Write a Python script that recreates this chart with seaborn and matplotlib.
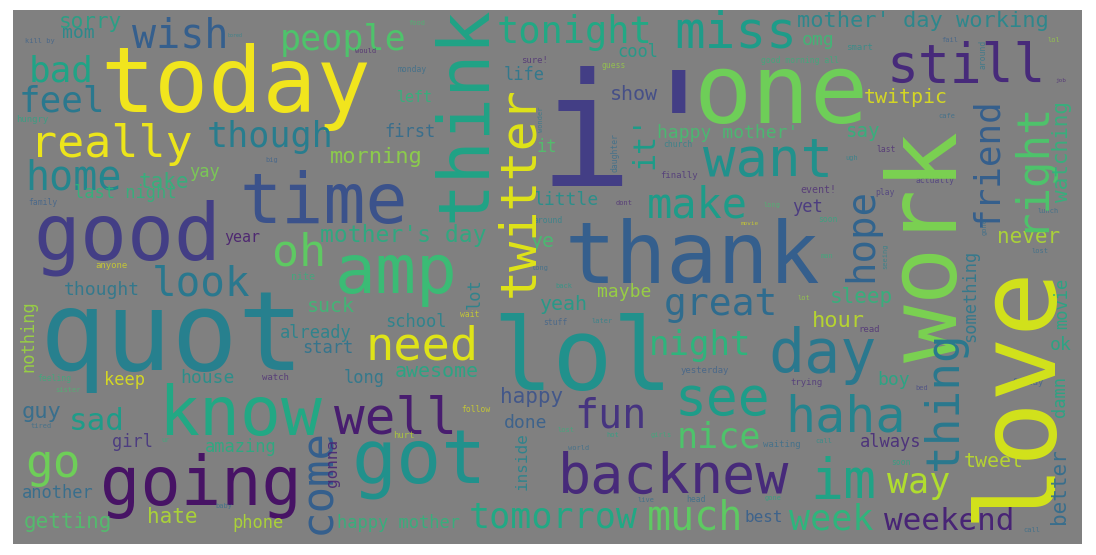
import matplotlib
matplotlib.use("Agg")
import matplotlib.pyplot as plt
import seaborn as sns

# Word cloud.
# x, y in image pixels (x = left edge / baseline for rotated words, y = baseline / start for rotated)
# size = em height in pixels, tone = position on the viridis scale

h_words = [
    "today", "i'", "one", "quot", "good", "time", "thank", "lol", "got", "know",
    "going", "amp", "want", "miss", "still", "day", "back", "new", "see", "im",
    "well", "haha", "need", "really", "make", "go", "oh", "look", "wish", "home",
    "fun", "much", "great", "tonight", "though", "people", "night", "nice", "way", "week",
    "tomorrow", "bad", "feel", "weekend", "sad", "mother' day working", "twitpic", "morning", "hour", "guy",
    "getting", "hate", "happy", "take", "sleep", "never", "sorry", "mom", "show", "awesome",
    "yeah", "ye", "suck", "tweet", "say", "omg", "happy mother'", "done", "maybe", "little",
    "ok", "boy", "thought", "house", "mother's day", "keep", "last night", "life", "cool", "first",
    "yay", "it", "school", "already", "start", "girl", "amazing", "another", "phone", "happy mother",
    "long", "yet", "always", "best", "left", "year",
    "kill by", "food", "would", "sure!", "guess", "monday", "hungry", "big", "family", "anyone",
    "nite", "feeling", "sister", "watch", "tired", "ur", "baby", "follow", "hurt", "lost",
    "world", "girls", "hot", "yesterday", "live", "head", "trying", "bed", "friday", "waiting",
    "call", "soon", "gone", "call", "smart", "good morning all", "fail", "lol", "job", "cafe",
    "last", "actually", "ugh", "event!", "play", "long", "movie", "soon", "man", "lot",
    "read", "lunch", "lost", "dont", "around", "long", "back", "wait", "stuff", "later",
    "bored", "church", "finally",
]
h_x = [
    100, 539, 694, 40, 33, 240, 565, 492, 352, 158,
    100, 335, 703, 674, 887, 768, 558, 690, 674, 810,
    334, 785, 365, 30, 647, 25, 272, 152, 132, 25,
    574, 647, 664, 497, 207, 280, 649, 677, 887, 789,
    469, 29, 19, 884, 69, 797, 864, 330, 812, 22,
    24, 147, 500, 139, 830, 997, 59, 62, 610, 395,
    539, 530, 307, 964, 845, 802, 657, 504, 597, 534,
    1050, 877, 64, 180, 320, 104, 74, 504, 617, 384,
    189, 537, 385, 280, 302, 112, 205, 22, 232, 337,
    344, 792, 860, 744, 397, 224,
    25, 408, 355, 521, 601, 398, 16, 265, 28, 95,
    291, 37, 55, 262, 31, 161, 215, 461, 393, 558,
    568, 651, 606, 681, 638, 686, 790, 915, 1011, 763,
    815, 891, 765, 1023, 846, 761, 941, 1048, 1055, 938,
    876, 915, 845, 800, 875, 763, 741, 818, 821, 798,
    858, 1038, 1031, 616, 533, 531, 555, 460, 543, 591,
    228, 663, 660,
]
h_y = [
    112, 185, 123, 370, 260, 223, 283, 390, 483, 435,
    505, 293, 177, 47, 82, 372, 493, 493, 415, 498,
    433, 432, 360, 157, 217, 477, 265, 296, 47, 190,
    427, 530, 315, 43, 147, 50, 355, 447, 493, 530,
    528, 82, 112, 530, 430, 27, 103, 163, 327, 418,
    528, 523, 403, 188, 303, 243, 28, 38, 100, 377,
    310, 247, 312, 467, 137, 45, 138, 428, 297, 205,
    350, 385, 295, 383, 242, 385, 198, 80, 57, 137,
    177, 152, 327, 338, 353, 447, 452, 498, 528, 528,
    383, 212, 447, 522, 102, 242,
    43, 25, 53, 63, 68, 72, 122, 162, 205, 268,
    280, 381, 392, 380, 428, 442, 508, 412, 438, 432,
    450, 437, 437, 373, 502, 502, 385, 390, 385, 447,
    443, 465, 500, 532, 50, 63, 42, 42, 82, 118,
    152, 183, 160, 193, 195, 207, 225, 222, 258, 300,
    332, 213, 253, 205, 223, 270, 288, 317, 325, 323,
    37, 147, 178,
]
h_size = [
    90, 156, 97, 110, 78, 70, 85, 100, 75, 68,
    67, 68, 54, 51, 53, 60, 55, 55, 53, 55,
    51, 50, 47, 45, 42, 46, 45, 41, 40, 40,
    40, 40, 38, 37, 35, 35, 34, 35, 35, 35,
    35, 36, 36, 31, 31, 22, 20, 22, 22, 22,
    21, 21, 21, 21, 21, 21, 21, 18, 20, 20,
    20, 20, 20, 20, 19, 18, 18, 18, 18, 18,
    18, 18, 18, 18, 23, 17, 17, 17, 17, 17,
    17, 17, 17, 17, 17, 17, 17, 17, 17, 17,
    17, 17, 17, 16, 15, 15,
    7, 7, 7, 9, 8, 8, 9, 7, 8, 9,
    10, 8, 7, 9, 7, 7, 7, 8, 9, 7,
    7, 7, 7, 9, 7, 8, 9, 7, 9, 9,
    7, 8, 7, 7, 9, 8, 7, 7, 6, 7,
    8, 8, 7, 10, 8, 7, 6, 8, 7, 7,
    9, 7, 7, 7, 8, 7, 7, 8, 8, 7,
    5, 8, 9,
]
h_tone = [
    0.98, 0.18, 0.78, 0.43, 0.18, 0.25, 0.30, 0.50, 0.50, 0.60,
    0.05, 0.68, 0.50, 0.55, 0.12, 0.40, 0.12, 0.12, 0.55, 0.58,
    0.08, 0.45, 0.95, 0.97, 0.55, 0.78, 0.75, 0.40, 0.30, 0.46,
    0.15, 0.75, 0.35, 0.60, 0.42, 0.72, 0.65, 0.72, 0.88, 0.65,
    0.60, 0.58, 0.40, 0.10, 0.55, 0.47, 0.95, 0.83, 0.90, 0.35,
    0.72, 0.88, 0.25, 0.65, 0.65, 0.88, 0.58, 0.48, 0.22, 0.60,
    0.55, 0.70, 0.68, 0.90, 0.65, 0.68, 0.70, 0.30, 0.85, 0.50,
    0.60, 0.60, 0.40, 0.50, 0.62, 0.95, 0.65, 0.40, 0.55, 0.35,
    0.80, 0.72, 0.45, 0.45, 0.38, 0.15, 0.62, 0.35, 0.88, 0.65,
    0.40, 0.15, 0.12, 0.30, 0.65, 0.08,
    0.30, 0.70, 0.08, 0.10, 0.85, 0.35, 0.60, 0.30, 0.30, 0.95,
    0.65, 0.65, 0.70, 0.10, 0.35, 0.65, 0.35, 0.95, 0.90, 0.65,
    0.35, 0.65, 0.60, 0.30, 0.35, 0.35, 0.12, 0.20, 0.30, 0.35,
    0.50, 0.60, 0.60, 0.35, 0.50, 0.65, 0.30, 0.85, 0.10, 0.35,
    0.10, 0.15, 0.45, 0.10, 0.15, 0.70, 0.95, 0.62, 0.65, 0.85,
    0.10, 0.35, 0.35, 0.10, 0.45, 0.35, 0.55, 0.95, 0.30, 0.45,
    0.45, 0.45, 0.12,
]

v_words = [
    "work", "love", "think", "twitter", "it'", "friend", "right", "watching", "hope", "something",
    "movie", "come", "gonna", "nothing", "lot", "inside", "thing", "damn", "better", "around",
    "daughter", "wonder", "seeing", "gone",
]
v_x = [
    957, 1048, 485, 533, 653, 997, 1042, 1068, 872, 975,
    1067, 330, 337, 33, 480, 527, 957, 1065, 1065, 985,
    618, 543, 887, 987,
]
v_y = [
    362, 522, 222, 297, 169, 227, 232, 202, 282, 342,
    329, 534, 487, 372, 309, 490, 470, 417, 524, 69,
    172, 132, 269, 235,
]
v_size = [
    96, 108, 72, 50, 30, 36, 44, 21, 39, 17,
    17, 44, 16, 17, 17, 16, 46, 17, 21, 8,
    8, 7, 7, 7,
]
v_tone = [
    0.80, 0.93, 0.58, 0.95, 0.55, 0.30, 0.72, 0.65, 0.32, 0.40,
    0.60, 0.30, 0.10, 0.85, 0.45, 0.45, 0.40, 0.60, 0.35, 0.40,
    0.35, 0.40, 0.45, 0.35,
]

sns.set_style("white")
cmap = sns.color_palette("viridis", as_cmap=True)
font = "DejaVu Sans Mono"
dpi = 100


def fade(size):
    # small words are blurred into the grey background in the reference
    if size <= 10:
        return 0.7
    if size <= 23:
        return 0.88
    return 1.0


fig = plt.figure(figsize=(10.96, 5.55), dpi=dpi)
ax = fig.add_axes([13 / 1096, 11 / 555, 1069 / 1096, 534 / 555])
ax.set_facecolor("#808080")
ax.set_xlim(13, 1082)
ax.set_ylim(544, 10)
ax.set_xticks([])
ax.set_yticks([])
for s in ax.spines.values():
    s.set_visible(False)

for w, x, y, s, t in zip(h_words, h_x, h_y, h_size, h_tone):
    ax.text(x, y, w, fontsize=s * 72 / dpi, color=cmap(t), alpha=fade(s),
            family=font, ha="left", va="baseline", clip_on=True)

for w, x, y, s, t in zip(v_words, v_x, v_y, v_size, v_tone):
    ax.text(x, y, w, fontsize=s * 72 / dpi, color=cmap(t), alpha=fade(s),
            family=font, rotation=90, rotation_mode="anchor",
            ha="left", va="baseline", clip_on=True)

fig.savefig("out.png", dpi=dpi, facecolor="white")
